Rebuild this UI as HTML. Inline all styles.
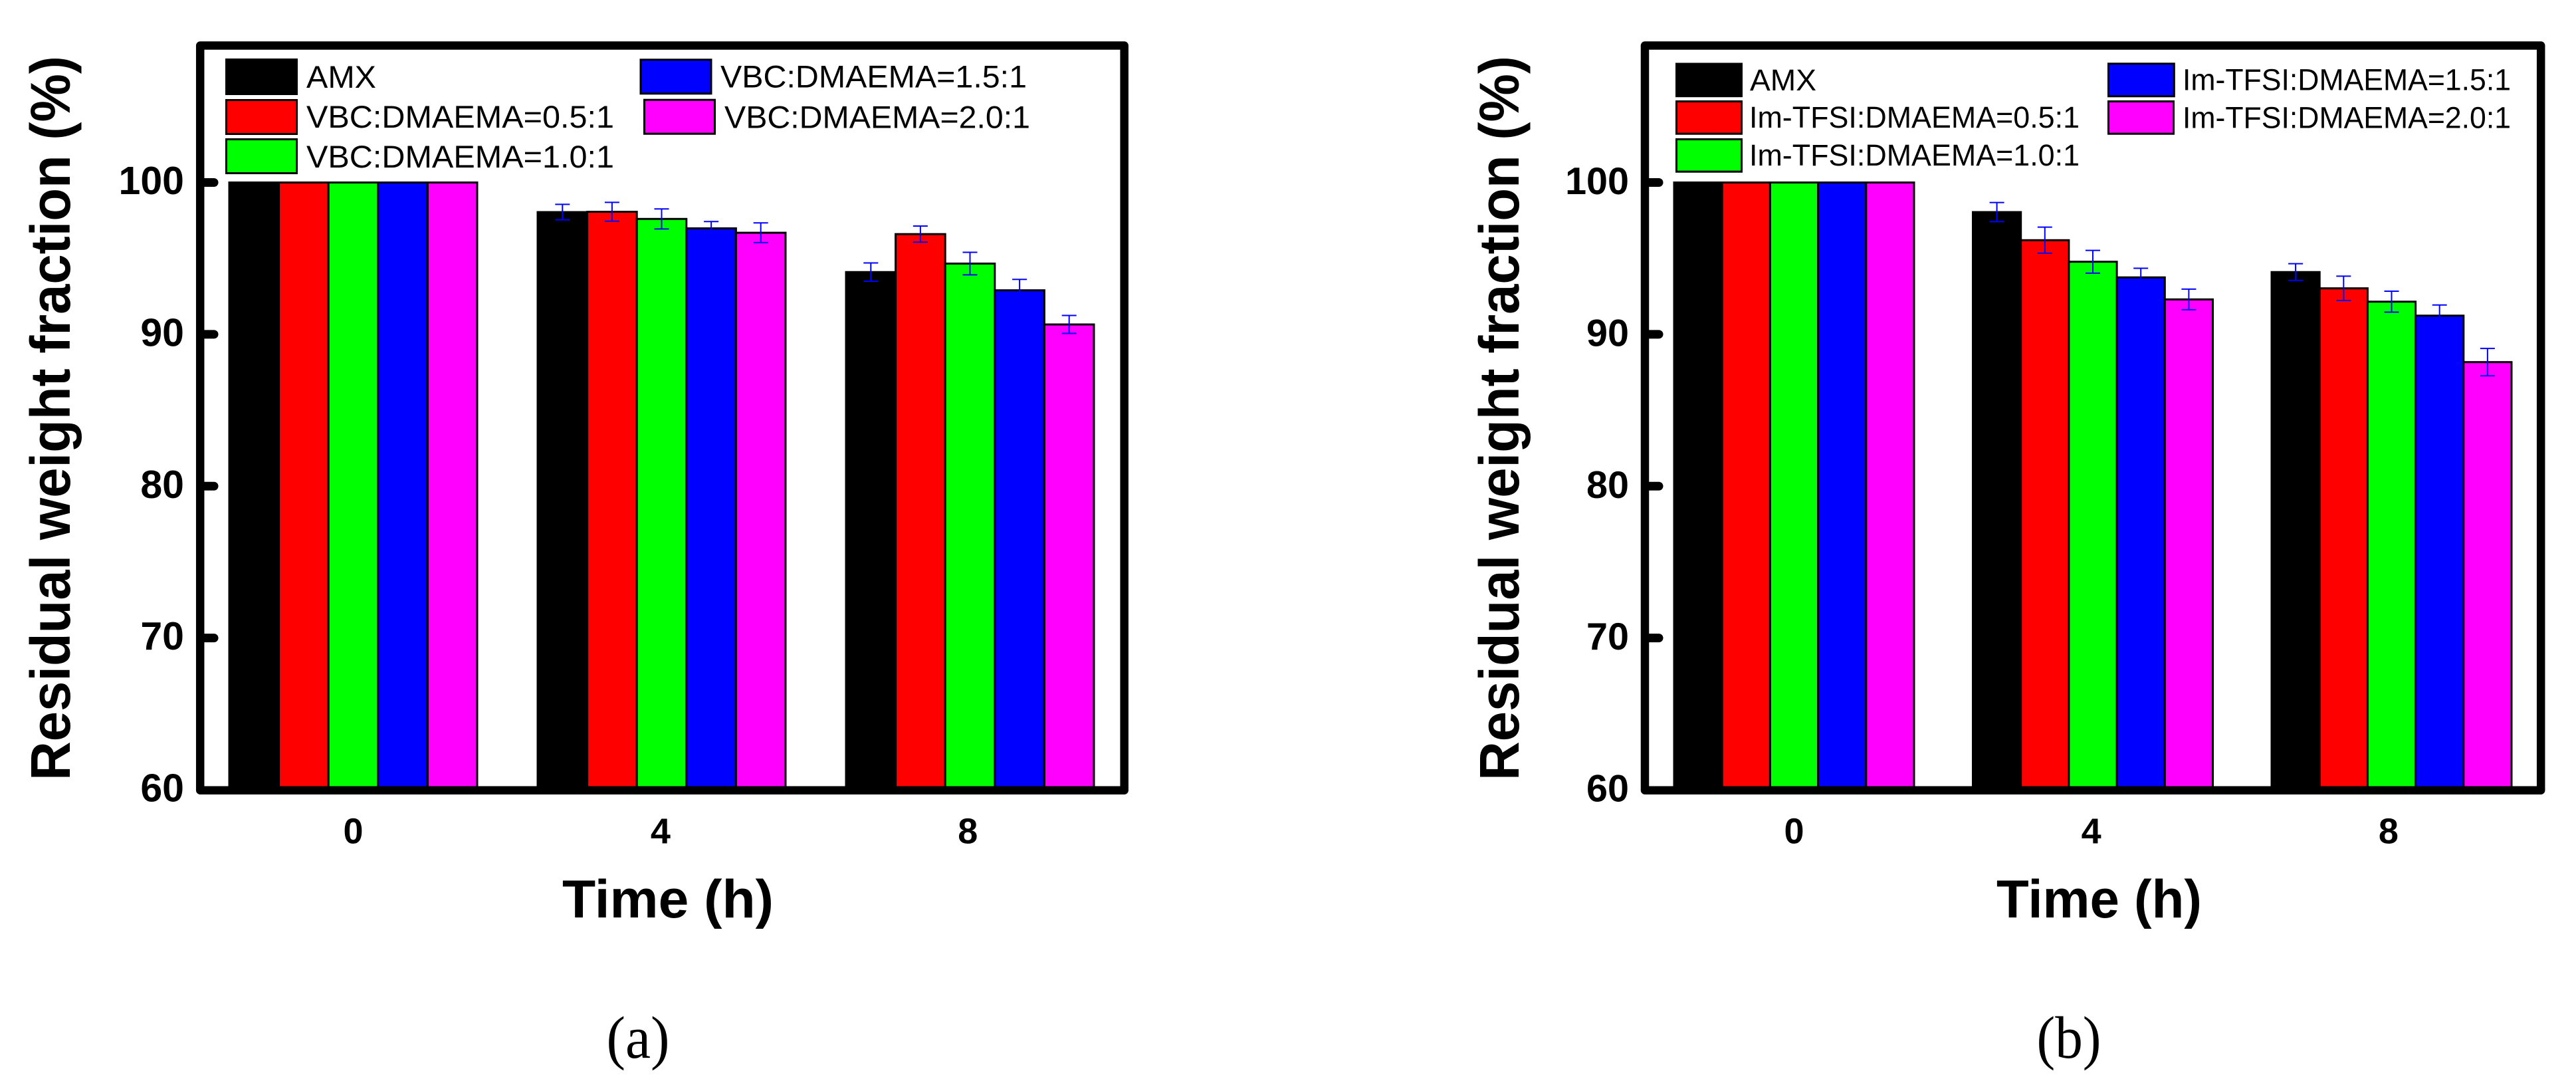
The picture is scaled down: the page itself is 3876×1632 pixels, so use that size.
<!DOCTYPE html>
<html lang="en">
<head>
<meta charset="utf-8">
<title>Residual weight fraction vs time</title>
<style>
html,body{margin:0;padding:0;background:#fff;width:3876px;height:1632px;overflow:hidden}
svg{display:block}
text{font-family:"Liberation Sans",Arial,sans-serif;fill:#000}
.leg{font-size:47.5px}
.legb{font-size:45.5px}
.title{font-size:81px;font-weight:bold}
.ytitle{font-size:84px;font-weight:bold}
.cap{font-family:"Liberation Serif","Times New Roman",serif;font-size:90px}
.frame{fill:none;stroke:#000;stroke-width:12.5;stroke-linejoin:round}
.sw{stroke:#000;stroke-width:3}
</style>
</head>
<body>
<svg id="figure" xmlns="http://www.w3.org/2000/svg" width="3876" height="1632" viewBox="0 0 3876 1632">
  <rect x="0" y="0" width="3876" height="1632" fill="#fff"/>

  <g id="panel-a">
    <g id="marks-a"></g>
    <rect class="frame" x="301.2" y="68.5" width="1390.5" height="1120.2"/>
    <g id="axis-a"></g>
    <text class="ytitle" transform="translate(105,1174) rotate(-90)" textLength="1090" lengthAdjust="spacingAndGlyphs">Residual weight fraction (%)</text>
    <text class="title" x="846" y="1380" textLength="318" lengthAdjust="spacingAndGlyphs">Time (h)</text>
    <g>
      <rect class="sw" x="340.5" y="89.5" width="106" height="52" fill="#000"/>
      <text class="leg" x="461" y="132" textLength="105" lengthAdjust="spacingAndGlyphs">AMX</text>
      <rect class="sw" x="340.5" y="150.5" width="106" height="51" fill="#f00"/>
      <text class="leg" x="461" y="192" textLength="463" lengthAdjust="spacingAndGlyphs">VBC:DMAEMA=0.5:1</text>
      <rect class="sw" x="340.5" y="209.5" width="106" height="51" fill="#0f0"/>
      <text class="leg" x="461" y="252" textLength="463" lengthAdjust="spacingAndGlyphs">VBC:DMAEMA=1.0:1</text>
      <rect class="sw" x="964" y="89.8" width="106" height="51" fill="#00f"/>
      <text class="leg" x="1084" y="131.7" textLength="461" lengthAdjust="spacingAndGlyphs">VBC:DMAEMA=1.5:1</text>
      <rect class="sw" x="969.5" y="150.2" width="106" height="51" fill="#f0f"/>
      <text class="leg" x="1090" y="192.3" textLength="460" lengthAdjust="spacingAndGlyphs">VBC:DMAEMA=2.0:1</text>
    </g>
    <text class="cap" x="960" y="1591" text-anchor="middle" textLength="95" lengthAdjust="spacingAndGlyphs">(a)</text>
  </g>

  <g id="panel-b">
    <g id="marks-b"></g>
    <rect class="frame" x="2475" y="68.5" width="1348.2" height="1120.2"/>
    <g id="axis-b"></g>
    <text class="ytitle" transform="translate(2285,1174) rotate(-90)" textLength="1090" lengthAdjust="spacingAndGlyphs">Residual weight fraction (%)</text>
    <text class="title" x="3004" y="1380" textLength="309" lengthAdjust="spacingAndGlyphs">Time (h)</text>
    <g>
      <rect class="sw" x="2522.5" y="96" width="98" height="48.7" fill="#000"/>
      <text class="legb" x="2633" y="136" textLength="100" lengthAdjust="spacingAndGlyphs">AMX</text>
      <rect class="sw" x="2522.5" y="152.5" width="98" height="48.7" fill="#f00"/>
      <text class="legb" x="2632" y="192" textLength="497" lengthAdjust="spacingAndGlyphs">Im-TFSI:DMAEMA=0.5:1</text>
      <rect class="sw" x="2522.5" y="209.5" width="98" height="48.7" fill="#0f0"/>
      <text class="legb" x="2632" y="249" textLength="497" lengthAdjust="spacingAndGlyphs">Im-TFSI:DMAEMA=1.0:1</text>
      <rect class="sw" x="3172.5" y="95.8" width="98.8" height="49" fill="#00f"/>
      <text class="legb" x="3284" y="135.7" textLength="494" lengthAdjust="spacingAndGlyphs">Im-TFSI:DMAEMA=1.5:1</text>
      <rect class="sw" x="3172.5" y="152.5" width="98" height="48.7" fill="#f0f"/>
      <text class="legb" x="3284" y="192.3" textLength="494" lengthAdjust="spacingAndGlyphs">Im-TFSI:DMAEMA=2.0:1</text>
    </g>
    <text class="cap" x="3113" y="1591" text-anchor="middle" textLength="97" lengthAdjust="spacingAndGlyphs">(b)</text>
  </g>
</svg>

<script>
// Chart data
const timeCategories = ['0', '4', '8'];
const timeHours = [0, 4, 8];
const yTickValues = [60, 70, 80, 90, 100];
const seriesColors = ['#000', '#f00', '#0f0', '#00f', '#f0f'];
const seriesKeys = ['amx', 'ratio-0-5', 'ratio-1-0', 'ratio-1-5', 'ratio-2-0'];

// Panel (a) VBC:DMAEMA
const vbcAmx = [100, 98.05, 94.1];
const vbc05 = [100, 98.07, 96.6];
const vbc10 = [100, 97.6, 94.66];
const vbc15 = [100, 96.98, 92.9];
const vbc20 = [100, 96.69, 90.65];
const vbcAmxErr = [0, 0.51, 0.6];
const vbc05Err = [0, 0.62, 0.53];
const vbc10Err = [0, 0.66, 0.74];
const vbc15Err = [0, 0.45, 0.72];
const vbc20Err = [0, 0.65, 0.59];

// Panel (b) Im-TFSI:DMAEMA
const imAmx = [100, 98.05, 94.1];
const im05 = [100, 96.2, 93.03];
const im10 = [100, 94.78, 92.15];
const im15 = [100, 93.75, 91.23];
const im20 = [100, 92.3, 88.17];
const imAmxErr = [0, 0.63, 0.55];
const im05Err = [0, 0.86, 0.8];
const im10Err = [0, 0.75, 0.69];
const im15Err = [0, 0.6, 0.7];
const im20Err = [0, 0.68, 0.9];

const SVG_NS = 'http://www.w3.org/2000/svg';

// Shared value axis: 60 at y=1188, 100 at y=274.5
function yScale(v) {
  return 274.5 + (100 - v) * (1188 - 274.5) / 40;
}

function makeEl(parent, tag, attrs) {
  const node = document.createElementNS(SVG_NS, tag);
  for (const k in attrs) node.setAttribute(k, attrs[k]);
  parent.appendChild(node);
  return node;
}

function drawPanel(cfg) {
  const marks = document.getElementById(cfg.marksId);
  const axis = document.getElementById(cfg.axisId);
  const base = yScale(yTickValues[0]);

  function barX(g, s) {
    return cfg.x0 + g * cfg.step + s * cfg.barW;
  }

  cfg.values.forEach(function (series, s) {
    series.forEach(function (v, g) {
      const bar = makeEl(marks, 'rect', {
        x: barX(g, s),
        y: yScale(v),
        width: cfg.barW,
        height: base - yScale(v),
        fill: seriesColors[s],
        stroke: '#000',
        'stroke-width': 3
      });
      
      
    });
  });

  cfg.values.forEach(function (series, s) {
    series.forEach(function (v, g) {
      const e = cfg.errors[s][g];
      if (!e) return;
      const cx = barX(g, s) + cfg.barW / 2;
      const top = yScale(v + e);
      const bottom = yScale(v - e);
      const err = makeEl(marks, 'path', {
        d: 'M' + (cx - 11) + ' ' + top + 'H' + (cx + 11) +
           'M' + cx + ' ' + top + 'V' + bottom +
           'M' + (cx - 11) + ' ' + bottom + 'H' + (cx + 11),
        fill: 'none',
        stroke: '#00f',
        'stroke-width': 2
      });
      
      
    });
  });

  yTickValues.forEach(function (t) {
    const y = yScale(t);
    if (t !== yTickValues[0]) {
      const tick = makeEl(axis, 'line', {
        x1: cfg.tickX0,
        x2: cfg.tickX1,
        y1: y,
        y2: y,
        stroke: '#000',
        'stroke-width': 13,
        'stroke-linecap': 'round'
      });
      
      
    }
    const label = makeEl(axis, 'text', {
      x: cfg.yLabelX,
      y: y + 17.5,
      'text-anchor': 'end',
      'font-size': cfg.yLabelSize,
      'font-weight': 'bold'
    });
    label.textContent = String(t);
    
    
  });

  timeCategories.forEach(function (c, i) {
    const label = makeEl(axis, 'text', {
      x: cfg.xLabel0 + timeHours[i] * cfg.xLabelPerHour,
      y: 1268.5,
      'text-anchor': 'middle',
      'font-size': 54,
      'font-weight': 'bold'
    });
    label.textContent = c;
    
    
  });
}

drawPanel({
  marksId: 'marks-a',
  axisId: 'axis-a',
  x0: 345,
  step: 464,
  barW: 74.6,
  tickX0: 304,
  tickX1: 322,
  yLabelX: 277,
  yLabelSize: 59,
  xLabel0: 531.5,
  xLabelPerHour: 115.6,
  values: [vbcAmx, vbc05, vbc10, vbc15, vbc20],
  errors: [vbcAmxErr, vbc05Err, vbc10Err, vbc15Err, vbc20Err]
});

drawPanel({
  marksId: 'marks-b',
  axisId: 'axis-b',
  x0: 2519,
  step: 449.5,
  barW: 72.2,
  tickX0: 2478,
  tickX1: 2496,
  yLabelX: 2451,
  yLabelSize: 57.5,
  xLabel0: 2699.5,
  xLabelPerHour: 111.8,
  values: [imAmx, im05, im10, im15, im20],
  errors: [imAmxErr, im05Err, im10Err, im15Err, im20Err]
});
</script>
</body>
</html>
